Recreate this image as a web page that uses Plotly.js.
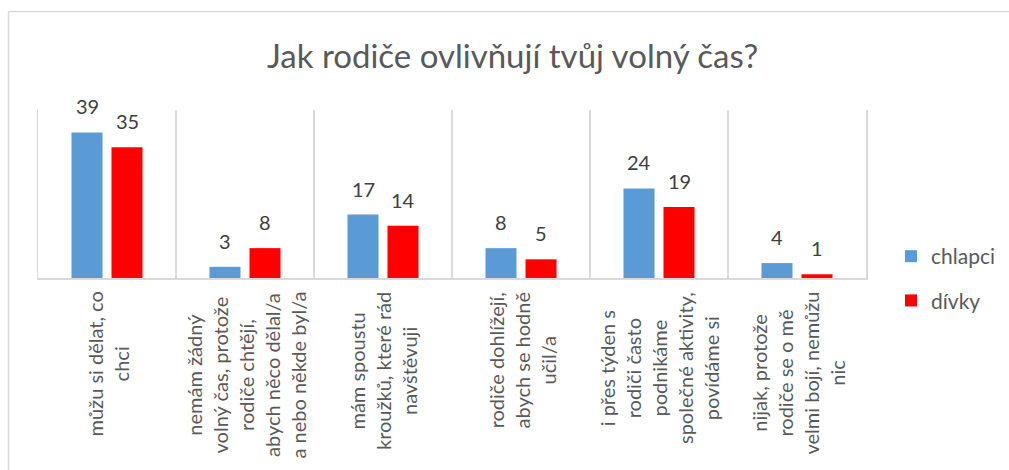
<!DOCTYPE html>
<html>
<head>
<meta charset="utf-8">
<script src="https://cdn.plot.ly/plotly-3.0.1.min.js"></script>
<style>html,body{margin:0;padding:0;background:#fff;}#chart{width:1009px;height:470px;}</style>
</head>
<body>
<div id="chart"></div>
<script>
const categories = [
  "můžu si dělat, co<br>chci",
  "nemám žádný<br>volný čas, protože<br>rodiče chtějí,<br>abych něco dělal/a<br>a nebo někde byl/a",
  "mám spoustu<br>kroužků, které rád<br>navštěvuji",
  "rodiče dohlížejí,<br>abych se hodně<br>učil/a",
  "i přes týden s<br>rodiči často<br>podnikáme<br>společné aktivity,<br>povídáme si",
  "nijak, protože<br>rodiče se o mě<br>velmi bojí, nemůžu<br>nic"
];
const chlapci = [39, 3, 17, 8, 24, 4];
const divky = [35, 8, 14, 5, 19, 1];
const seriesNames = ["chlapci", "dívky"];
const seriesColors = ["#5B9BD5", "#FF0000"];

const FONT = "Lato, 'Open Sans', sans-serif";
const seriesValues = [chlapci, divky];

const traces = seriesValues.map((vals, i) => ({
  type: "bar",
  name: seriesNames[i],
  x: categories,
  y: vals,
  marker: {color: seriesColors[i]},
  legendgroup: "g" + i,
  hoverinfo: "skip"
}));

const annotations = [];
// value labels above bars
seriesValues.forEach((vals, i) => {
  vals.forEach((v, j) => {
    annotations.push({
      x: categories[j], y: v, xref: "x", yref: "y",
      text: String(v), showarrow: false,
      xanchor: "center", yanchor: "bottom",
      xshift: i === 0 ? -20 : 20, yshift: 12,
      font: {family: FONT, size: 20, color: "#404040"}
    });
  });
});
// category labels (rotated, centered lines)
categories.forEach((c) => {
  annotations.push({
    x: c, y: 0, xref: "x", yref: "y",
    text: c, showarrow: false, textangle: -90,
    xanchor: "center", yanchor: "top", align: "center",
    yshift: -12,
    font: {family: FONT, size: 20, color: "#595959"}
  });
});

const layout = {
  width: 1009, height: 470,
  margin: {l: 38, r: 143, t: 110, b: 192, autoexpand: false},
  paper_bgcolor: "#ffffff", plot_bgcolor: "#ffffff",
  title: {
    text: "Jak rodiče ovlivňují tvůj volný čas?",
    font: {family: FONT, size: 33, color: "#595959"},
    x: 0.508, xanchor: "center", y: 0.88, yanchor: "middle"
  },
  barmode: "group", bargap: 0.42, bargroupgap: 0.225,
  xaxis: {
    type: "category", range: [-0.5, 5.5],
    showticklabels: false, ticks: "",
    showgrid: true, gridcolor: "#D9D9D9", gridwidth: 1.5, tickson: "boundaries",
    showline: true, linecolor: "#D9D9D9", linewidth: 1.5,
    fixedrange: true
  },
  yaxis: {
    range: [0, 45], showticklabels: false, ticks: "",
    showgrid: false, zeroline: false,
    showline: true, mirror: true, linecolor: "#D9D9D9", linewidth: 1.5,
    fixedrange: true
  },
  legend: {
    x: 1.0302, xanchor: "left", y: 0.25, yanchor: "top",
    font: {family: FONT, size: 21, color: "#595959"},
    tracegroupgap: 14, bgcolor: "rgba(0,0,0,0)"
  },
  annotations: annotations,
  shapes: [
    {type: "line", xref: "paper", yref: "paper", x0: -0.0356, x1: 1.2, y0: 1.5863, y1: 1.5863,
     line: {color: "#D9D9D9", width: 1.5}},
    {type: "line", xref: "paper", yref: "paper", x0: -0.0356, x1: -0.0356, y0: 1.5863, y1: -1.2,
     line: {color: "#D9D9D9", width: 1.5}}
  ],
  showlegend: true
};

Plotly.newPlot("chart", traces, layout, {displayModeBar: false, staticPlot: true});
</script>
</body>
</html>
